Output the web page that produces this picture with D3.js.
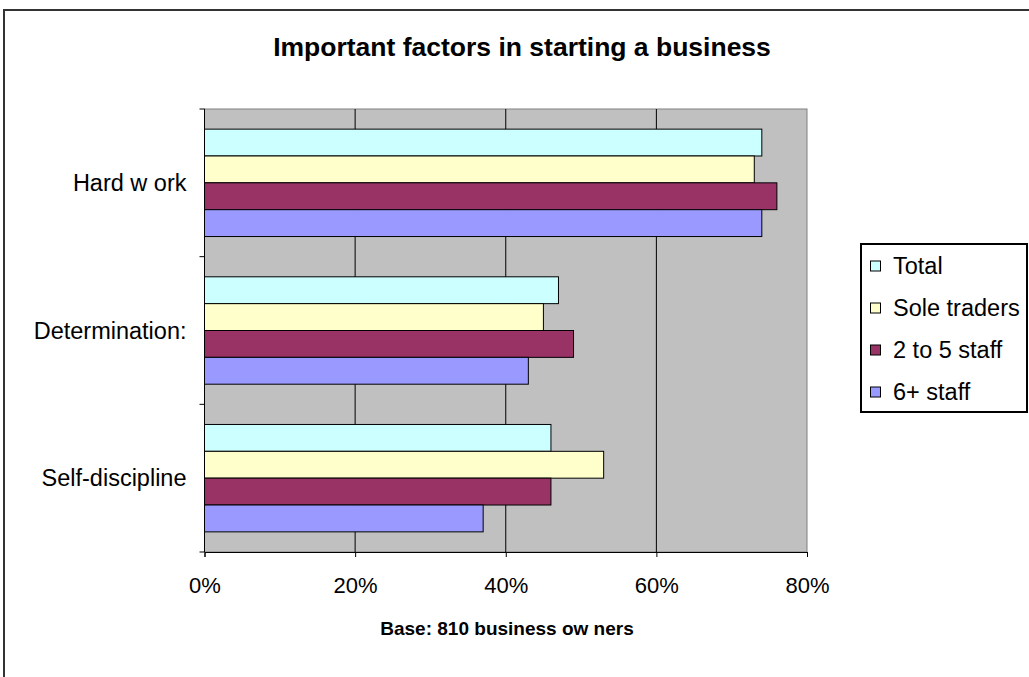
<!DOCTYPE html>
<html>
<head>
<meta charset="utf-8">
<script src="https://cdn.jsdelivr.net/npm/d3@7"></script>
<style>
  body { margin: 0; background: #fff; }
  text { font-family: "Liberation Sans", Arial, sans-serif; fill: #000; }
</style>
</head>
<body>
<svg width="1029" height="677"></svg>
<script>
const svg = d3.select('svg');

// Chart data
const categories = ['Hard w ork', 'Determination:', 'Self-discipline'];
const seriesNames = ['Total', 'Sole traders', '2 to 5 staff', '6+ staff'];
const totalValues = [74, 47, 46];
const soleValues = [73, 45, 53];
const smallValues = [76, 49, 46];
const largeValues = [74, 43, 37];
const xTicks = [0, 20, 40, 60, 80];
const seriesColors = ['#ccffff', '#ffffcc', '#993366', '#9999ff'];

const seriesValues = [totalValues, soleValues, smallValues, largeValues];

// Outer chart frame (cut off on the right and bottom)
svg.append('rect')
    .attr('x', 4).attr('y', 10)
    .attr('width', 1040).attr('height', 700)
    .attr('fill', 'none')
    .attr('stroke', '#333')
    .attr('stroke-width', 2);

// Plot area
const plot = { left: 204.5, right: 807, top: 109, bottom: 552 };

const x = d3.scaleLinear()
    .domain([0, 80])
    .range([plot.left, plot.right]);

const y = d3.scaleBand()
    .domain(categories)
    .range([plot.top, plot.bottom])
    .paddingInner(0.75 / 5.5 * 2)
    .paddingOuter(0.75 / 5.5);

const ySeries = d3.scaleBand()
    .domain(seriesNames)
    .range([0, y.bandwidth()]);

const chart = svg.append('g');

chart.append('rect')
    .attr('x', plot.left).attr('y', plot.top)
    .attr('width', plot.right - plot.left)
    .attr('height', plot.bottom - plot.top)
    .attr('fill', '#c0c0c0')
    .attr('stroke', '#808080')
    .attr('stroke-width', 1);

// Gridlines
chart.selectAll('line.grid').data(xTicks.slice(1, -1))
  .join('line')
    .attr('class', 'grid')
    .attr('x1', d => x(d)).attr('x2', d => x(d))
    .attr('y1', plot.top).attr('y2', plot.bottom)
    .attr('stroke', '#000')
    .attr('stroke-width', 1);

// Bars
const rows = categories.flatMap((c, i) =>
  seriesNames.map((s, j) => ({ category: c, series: s, value: seriesValues[j][i], color: seriesColors[j] })));

chart.selectAll('rect.bar').data(rows)
  .join('rect')
    .attr('class', 'bar')
    .attr('x', x(0))
    .attr('y', d => y(d.category) + ySeries(d.series))
    .attr('width', d => x(d.value) - x(0))
    .attr('height', ySeries.bandwidth())
    .attr('fill', d => d.color)
    .attr('stroke', '#000')
    .attr('stroke-width', 1);

// Axes
const xAxis = chart.append('g')
    .attr('transform', `translate(0,${plot.bottom})`)
    .call(d3.axisBottom(x).tickValues(xTicks).tickFormat(d => d + '%').tickSizeOuter(0).tickSize(5).tickPadding(20));
xAxis.select('.domain').attr('stroke', '#000');
xAxis.selectAll('line').attr('stroke', '#000');
xAxis.selectAll('text')
    .style('font-size', '22px')
    .style('font-family', '"Liberation Sans", Arial, sans-serif');

const yAxis = chart.append('g')
    .attr('transform', `translate(${plot.left},0)`);
yAxis.append('line')
    .attr('x1', 0).attr('x2', 0)
    .attr('y1', plot.top).attr('y2', plot.bottom)
    .attr('stroke', '#000');
const boundaries = categories.map(c => y(c) - y.step() * y.paddingInner() / 2)
    .concat([plot.bottom]);
boundaries[0] = plot.top;
yAxis.selectAll('line.tick').data(boundaries)
  .join('line')
    .attr('class', 'tick')
    .attr('x1', -5).attr('x2', 0)
    .attr('y1', d => d).attr('y2', d => d)
    .attr('stroke', '#000');
yAxis.selectAll('text').data(categories)
  .join('text')
    .attr('x', -18)
    .attr('y', d => y(d) + y.bandwidth() / 2)
    .attr('dy', '0.35em')
    .attr('text-anchor', 'end')
    .style('font-size', '23.5px')
    .text(d => d);

// Title and axis title
svg.append('text')
    .attr('x', 522).attr('y', 56)
    .attr('text-anchor', 'middle')
    .style('font-size', '26.5px')
    .style('font-weight', 'bold')
    .text('Important factors in starting a business');

svg.append('text')
    .attr('x', 507).attr('y', 635)
    .attr('text-anchor', 'middle')
    .style('font-size', '19px')
    .style('font-weight', 'bold')
    .text('Base: 810 business ow ners');

// Legend
const legend = svg.append('g');
legend.append('rect')
    .attr('x', 861).attr('y', 244)
    .attr('width', 166).attr('height', 168)
    .attr('fill', '#fff')
    .attr('stroke', '#000')
    .attr('stroke-width', 2);

const legendY = d3.scalePoint()
    .domain(seriesNames)
    .range([266, 392]);

const items = legend.selectAll('g.item').data(seriesNames)
  .join('g')
    .attr('class', 'item')
    .attr('transform', d => `translate(870,${legendY(d)})`);
items.append('rect')
    .attr('x', 0.5).attr('y', -5)
    .attr('width', 10).attr('height', 10)
    .attr('fill', (d, i) => seriesColors[i])
    .attr('stroke', '#000')
    .attr('stroke-width', 1);
items.append('text')
    .attr('x', 23)
    .attr('dy', '0.35em')
    .style('font-size', '23.5px')
    .text(d => d);
</script>
</body>
</html>
